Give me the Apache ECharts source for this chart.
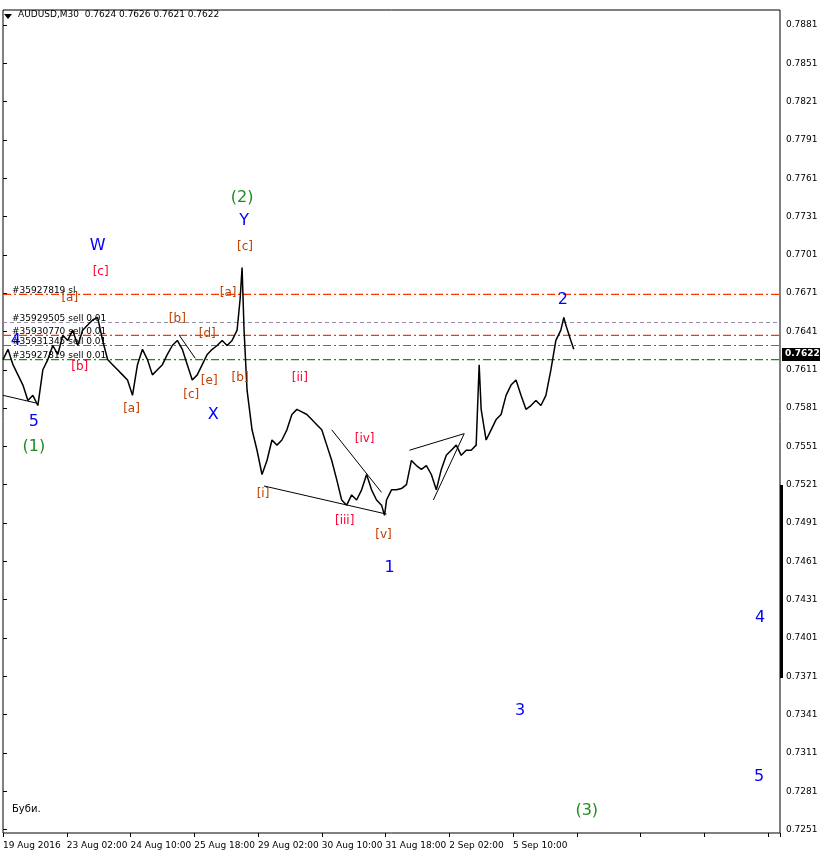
<!DOCTYPE html>
<html><head><meta charset="utf-8">
<script src="https://cdn.jsdelivr.net/npm/echarts@6/dist/echarts.min.js"></script>
<style>html,body{margin:0;padding:0;background:#fff}#c{width:822px;height:858px}</style>
</head><body><div id="c"></div>
<script>
const barPos=[0,5,10,15,20,25,30,35,40,45,50,55,60,65,70,75,80,85,90,95,100,105,110,115,120,125,130,135,140,145,150,155,160,165,170,175,180,185,190,195,200,205,210,215,220,225,230,235,238,240,242,245,250,255,260,265,270,275,280,285,290,295,300,305,310,315,320,325,330,335,340,345,350,355,360,365,370,375,380,383,385,390,395,400,405,410,415,420,425,430,435,440,445,450,455,460,465,470,475,478,480,485,490,495,500,505,510,515,520,525,530,535,540,545,550,555,560,563,565,570,573];
const closes=[.7619,.7627,.7615,.7607,.7599,.7587,.7591,.7583,.7611,.7619,.7630,.7623,.7638,.7634,.7642,.7630,.7642,.7646,.7650,.7652,.7634,.7619,.7615,.7611,.7607,.7603,.7591,.7615,.7627,.7619,.7607,.7611,.7615,.7623,.7630,.7634,.7627,.7615,.7603,.7607,.7615,.7623,.7627,.7630,.7634,.7630,.7634,.7642,.7666,.7691,.7642,.7595,.7564,.7548,.7529,.7540,.7556,.7552,.7556,.7564,.7576,.7580,.7578,.7576,.7572,.7568,.7564,.7552,.7540,.7525,.7509,.7505,.7513,.7509,.7517,.7529,.7517,.7509,.7505,.7497,.7509,.7517,.7517,.7518,.7521,.7540,.7536,.7533,.7536,.7529,.7517,.7533,.7544,.7548,.7552,.7544,.7548,.7548,.7552,.7615,.7580,.7556,.7564,.7572,.7576,.7591,.7599,.7603,.7591,.7580,.7583,.7587,.7583,.7591,.7611,.7634,.7642,.7652,.7646,.7634,.7627];
const dateLabels=['19 Aug 2016','23 Aug 02:00','24 Aug 10:00','25 Aug 18:00','29 Aug 02:00','30 Aug 10:00','31 Aug 18:00','2 Sep 02:00','5 Sep 10:00'];
const priceTicks=[.7251,.7281,.7311,.7341,.7371,.7401,.7431,.7461,.7491,.7521,.7551,.7581,.7611,.7641,.7671,.7701,.7731,.7761,.7791,.7821,.7851,.7881];
const waveText=['(2)','Y','W','[c]','[c]','[a]','[a]','[b]','[d]','[b]','[b]','[e]','[c]','[a]','X','5','(1)','[ii]','[iv]','[i]','[iii]','[v]','1','2','4','3','5','(3)','4'];
const waveX=[240,242,95,98,243,67,226,175,205,77,238,207,189,129,211,31,31,298,363,261,343,382,388,562,760,519,759,586,13];
const waveP=[.7746,.7728,.7708,.7688,.7707,.7667,.7671,.7651,.7639,.7613,.7605,.7602,.7591,.7580,.7576,.7570,.7551,.7605,.7557,.7514,.7493,.7482,.7456,.7666,.7417,.7344,.7292,.7266,.7634];
const waveC=['g','b','b','r','o','o','o','o','o','r','o','o','o','o','b','b','g','r','r','o','r','o','b','b','b','b','b','g','b'];
const orderNames=['#35927819 sl','#35929505 sell 0.01','#35930770 sell 0.01','#35931345 sell 0.01','#35927819 sell 0.01'];
const orderPrices=[.7670,.7648,.7638,.7630,.7619];
const orderColors=['#ff3300','#9090a8','#ff3300','#ff3300','#00a000'];
const trendLines=[[[0,.7591],[33,.7585]],[[177,.7638],[193,.7620]],[[262,.7520],[385,.7498]],[[330,.7564],[380,.7515]],[[408,.7548],[463,.7561]],[[432,.7509],[463,.7561]]];
const cmap={g:'#1e8c1e',b:'#0000ff',r:'#ff0033',o:'#c04000'};
const ch=echarts.init(document.getElementById('c'));
const series=[];
orderPrices.forEach((p,i)=>series.push({type:'line',data:[[0,p],[780,p]],showSymbol:false,silent:true,z:3,color:orderColors[i],itemStyle:{color:orderColors[i]},lineStyle:{color:orderColors[i],type:i==1?[4,3]:[8,3,2,3],width:1.2,opacity:1}}));
series.push({type:'line',data:barPos.map((x,i)=>[x,closes[i]]),showSymbol:false,lineStyle:{color:'#000',width:1.5},z:5});
series.push({type:'scatter',symbolSize:0,itemStyle:{opacity:1},data:waveX.map((x,i)=>({value:[x,waveP[i]],label:{show:true,formatter:waveText[i],color:cmap[waveC[i]],fontSize:waveText[i][0]=='['?12:16,fontFamily:'DejaVu Sans'}})),z:6});
series.push({type:'scatter',symbolSize:0,itemStyle:{opacity:1},data:orderNames.map((n,i)=>({value:[4,orderPrices[i]+0.0003],label:{show:true,position:'right',formatter:n,color:'#000',fontSize:9,fontFamily:'DejaVu Sans'}})),z:6});
trendLines.forEach(l=>series.push({type:'line',data:l,showSymbol:false,color:'#000',lineStyle:{color:'#000',width:1},silent:true}));
ch.setOption({animation:false,
 grid:{left:1,right:42,top:10,bottom:25,show:true,borderColor:'#000',borderWidth:1},
 xAxis:{type:'value',min:0,max:780,interval:64,axisLine:{show:false},splitLine:{show:false},axisTick:{show:true,length:4,lineStyle:{color:'#000'}},
  axisLabel:{color:'#000',fontSize:9,fontFamily:'DejaVu Sans',align:'left',formatter:v=>dateLabels[Math.round(v/64)]||''}},
 yAxis:{type:'value',position:'right',min:0.72483,max:0.78927,splitLine:{show:false},axisLine:{show:false},
  axisTick:{show:true,length:4,customValues:priceTicks,lineStyle:{color:'#000'}},
  axisLabel:{customValues:priceTicks,color:'#000',fontSize:9,fontFamily:'DejaVu Sans',margin:6,formatter:v=>v.toFixed(4)}},
 graphic:[
  {type:'polygon',shape:{points:[[4,14],[12,14],[8,19]]},style:{fill:'#000'}},
  {type:'text',left:18,top:10,style:{text:'AUDUSD,M30  0.7624 0.7626 0.7621 0.7622',fill:'#000',font:'9px DejaVu Sans'}},
  {type:'text',left:12,top:804,style:{text:'Буби.',fill:'#000',font:'10px DejaVu Sans'}},
  {type:'rect',shape:{x:780,y:485,width:3,height:193},style:{fill:'#000'}},
  {type:'rect',shape:{x:782,y:348,width:38,height:13},style:{fill:'#000'}},
  {type:'text',left:785,top:349,style:{text:'0.7622',fill:'#fff',font:'bold 9px DejaVu Sans'}}
 ],
 series});
</script></body></html>
